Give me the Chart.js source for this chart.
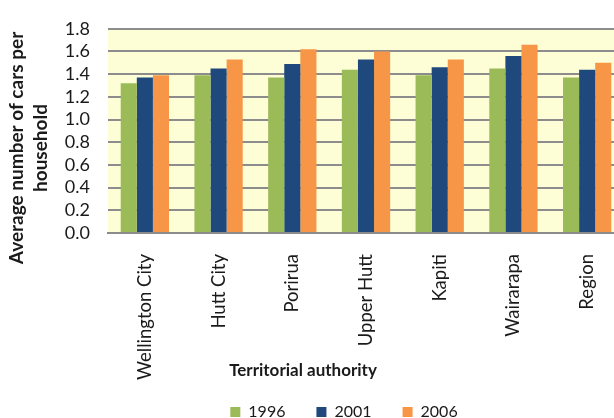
<!DOCTYPE html>
<html>
<head>
<meta charset="utf-8">
<style>
  html, body { margin: 0; padding: 0; background: #ffffff; overflow: hidden; }
  #wrap { position: relative; width: 624px; height: 418px; }
</style>
<script src="https://cdn.jsdelivr.net/npm/chart.js@4.4.1/dist/chart.umd.min.js"></script>
</head>
<body>
<div id="wrap"><canvas id="carsChart"></canvas></div>
<script>
// Territorial authorities (x categories)
const authorities = ['Wellington City', 'Hutt City', 'Porirua', 'Upper Hutt', 'Kapiti', 'Wairarapa', 'Region'];

// Average number of cars per household, per census year
const cars1996 = [1.32, 1.39, 1.37, 1.44, 1.39, 1.45, 1.37];
const cars2001 = [1.37, 1.45, 1.49, 1.53, 1.46, 1.56, 1.44];
const cars2006 = [1.39, 1.53, 1.62, 1.60, 1.53, 1.66, 1.50];

const yearLabels = ['1996', '2001', '2006'];
const yTicks = [0.0, 0.2, 0.4, 0.6, 0.8, 1.0, 1.2, 1.4, 1.6, 1.8];

// Colours (Excel 2007 palette)
const colors = ['#9bbb59', '#1f497d', '#f79646'];
const fontFamily = 'Lato, "Open Sans", "Liberation Sans", sans-serif';
const textColor = '#1a1a1a';

// Plot area background
const plotBackground = {
    id: 'plotBackground',
    beforeDraw(chart) {
        const { ctx, chartArea } = chart;
        ctx.save();
        ctx.fillStyle = '#fdfdd6';
        ctx.fillRect(chartArea.left, chartArea.top, chartArea.right - chartArea.left, chartArea.bottom - chartArea.top);
        ctx.restore();
    }
};

// Axis titles placed like in the Excel original (not centred on the axes)
const axisTitles = {
    id: 'axisTitles',
    afterDraw(chart) {
        const ctx = chart.ctx;
        ctx.save();
        ctx.fillStyle = textColor;
        ctx.textAlign = 'center';
        ctx.textBaseline = 'middle';

        ctx.font = 'bold 17px ' + fontFamily;
        ctx.fillText('Territorial authority', 303, 371);

        ctx.font = 'bold 19px ' + fontFamily;
        ctx.translate(0, 148);
        ctx.rotate(-Math.PI / 2);
        ctx.fillText('Average number of cars per', 0, 17);
        ctx.fillText('household', 0, 41);
        ctx.restore();
    }
};

// Nudge the legend to where the original has it (the legend clips to its box)
const legendOffset = {
    id: 'legendOffset',
    afterLayout(chart) {
        const lg = chart.legend;
        if (!lg) return;
        lg.left += 32;
        lg.right += 32;
        lg.top -= 7;
        lg.bottom = chart.height;
    }
};

const canvas = document.getElementById('carsChart');

new Chart(canvas, {
    type: 'bar',
    data: {
        labels: authorities,
        datasets: [
            { label: yearLabels[0], data: cars1996, backgroundColor: colors[0] },
            { label: yearLabels[1], data: cars2001, backgroundColor: colors[1] },
            { label: yearLabels[2], data: cars2006, backgroundColor: colors[2] }
        ]
    },
    options: {
        responsive: true,
        maintainAspectRatio: false,
        animation: false,
        devicePixelRatio: 1,
        layout: { padding: { top: 22, right: 0, left: 0, bottom: 0 } },
        datasets: {
            bar: { categoryPercentage: 0.655, barPercentage: 1.0 }
        },
        scales: {
            x: {
                grid: { display: false },
                border: { color: '#8c8c8c', width: 2 },
                ticks: {
                    color: textColor,
                    font: { family: fontFamily, size: 18.5 },
                    minRotation: 90,
                    maxRotation: 90,
                    padding: 13
                },
                afterFit(scale) { scale.height = 147; }
            },
            y: {
                min: 0,
                max: 1.8,
                afterBuildTicks(scale) { scale.ticks = yTicks.map(v => ({ value: v })); },
                grid: { color: '#8c8c8c', lineWidth: 2, drawTicks: false },
                border: { display: false },
                ticks: {
                    color: textColor,
                    font: { family: fontFamily, size: 18 },
                    padding: 18,
                    autoSkip: false,
                    callback: v => Number(v).toFixed(1)
                },
                afterFit(scale) { scale.width = 108; }
            }
        },
        plugins: {
            legend: {
                position: 'bottom',
                maxHeight: 38,
                labels: {
                    color: textColor,
                    font: { family: fontFamily, size: 16 },
                    boxWidth: 10,
                    boxHeight: 10,
                    padding: 31
                }
            },
            tooltip: { enabled: false }
        }
    },
    plugins: [plotBackground, axisTitles, legendOffset]
});
</script>
</body>
</html>
